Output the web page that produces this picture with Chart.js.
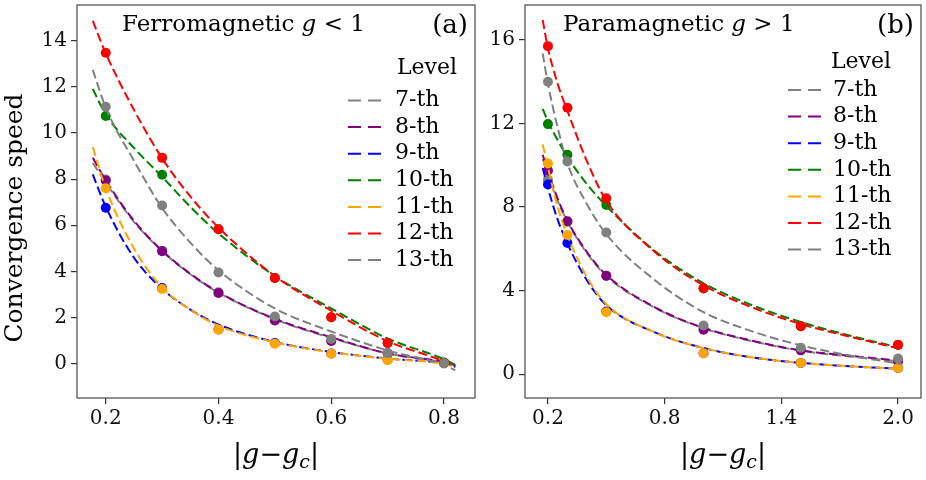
<!DOCTYPE html>
<html>
<head>
<meta charset="utf-8">
<script src="https://cdn.jsdelivr.net/npm/chart.js@4.4.0/dist/chart.umd.min.js"></script>
<style>
    body { margin: 0; background: #fff; }
    #wrap { position: relative; width: 926px; height: 480px; }
    #chart-a { position: absolute; left: 0; top: 0; }
    #chart-b { position: absolute; left: 480px; top: 0; }
</style>
</head>
<body>
<div id="wrap">
    <canvas id="chart-a" width="480" height="480"></canvas>
    <canvas id="chart-b" width="446" height="480"></canvas>
</div>
<script>
const levels = ['7-th', '8-th', '9-th', '10-th', '11-th', '12-th', '13-th'];
const levelColors = ['#808080', '#800080', '#0000ff', '#008000', '#ffa500', '#ff0000', '#808080'];

// (a) ferromagnetic, g < 1
const ferroX = [0.2, 0.3, 0.4, 0.5, 0.6, 0.7, 0.8];
const ferroPts7 = [7.98, 4.9, 3.1, 1.9, 1.0, 0.47, 0.05];
const ferroPts8 = [7.94, 4.88, 3.07, 1.88, 0.99, 0.45, 0.05];
const ferroPts9 = [6.76, 3.28, 1.5, 0.9, 0.45, 0.18, 0.03];
const ferroPts10 = [10.73, 8.19, 5.83, 3.72, 2.02, 0.9, 0.05];
const ferroPts11 = [7.6, 3.24, 1.48, 0.87, 0.44, 0.16, 0.02];
const ferroPts12 = [13.47, 8.92, 5.83, 3.72, 2.02, 0.9, 0.05];
const ferroPts13 = [11.13, 6.86, 3.96, 2.05, 1.08, 0.46, 0.02];

const ferroFitX = [0.177, 0.2, 0.25, 0.3, 0.35, 0.4, 0.5, 0.6, 0.7, 0.8, 0.82];
const ferroFit7 = [8.7, 7.85, 6.15, 4.88, 3.88, 3.08, 1.93, 1.12, 0.45, 0.05, -0.08];
const ferroFit8 = [8.92, 7.95, 6.2, 4.9, 3.9, 3.1, 1.95, 1.15, 0.45, 0.08, -0.05];
const ferroFit9 = [8.2, 6.8, 4.6, 3.25, 2.35, 1.7, 0.95, 0.51, 0.23, 0.02, -0.1];
const ferroFit10 = [11.9, 10.8, 9.35, 8.1, 6.8, 5.65, 3.8, 2.4, 1.1, 0.2, -0.05];
const ferroFit11 = [9.38, 7.6, 5.0, 3.3, 2.35, 1.65, 0.93, 0.5, 0.22, 0.0, -0.13];
const ferroFit12 = [14.85, 13.45, 11.0, 8.9, 7.25, 5.9, 3.8, 2.3, 0.98, 0.1, -0.15];
const ferroFit13 = [12.73, 11.1, 8.8, 6.75, 5.25, 4.05, 2.4, 1.4, 0.58, -0.05, -0.28];

const ferroTicksX = [0.2, 0.4, 0.6, 0.8];
const ferroTicksY = [0, 2, 4, 6, 8, 10, 12, 14];

// (b) paramagnetic, g > 1
const paraX = [0.2, 0.3, 0.5, 1.0, 1.5, 2.0];
const paraPts7 = [9.3, 7.3, 4.7, 2.2, 1.2, 0.6];
const paraPts8 = [9.75, 7.32, 4.71, 2.13, 1.14, 0.62];
const paraPts9 = [9.08, 6.28, 3.0, 1.0, 0.54, 0.3];
const paraPts10 = [11.97, 10.5, 8.1, 4.1, 2.3, 1.4];
const paraPts11 = [10.08, 6.66, 2.97, 1.0, 0.54, 0.3];
const paraPts12 = [15.7, 12.75, 8.42, 4.11, 2.3, 1.41];
const paraPts13 = [14.0, 10.18, 6.78, 2.33, 1.27, 0.75];

const paraFitX = [0.173, 0.2, 0.25, 0.3, 0.4, 0.5, 0.75, 1.0, 1.25, 1.5, 1.75, 2.02];
const paraFit7 = [10.3, 9.55, 8.3, 7.3, 5.8, 4.7, 3.18, 2.2, 1.58, 1.12, 0.85, 0.6];
const paraFit8 = [10.5, 9.7, 8.4, 7.35, 5.85, 4.75, 3.2, 2.22, 1.6, 1.14, 0.88, 0.64];
const paraFit9 = [9.87, 8.9, 7.4, 6.25, 4.5, 3.3, 2.0, 1.25, 0.8, 0.54, 0.38, 0.25];
const paraFit10 = [12.7, 12.1, 11.2, 10.4, 9.1, 8.05, 5.9, 4.35, 3.3, 2.5, 1.85, 1.25];
const paraFit11 = [11.0, 9.9, 8.0, 6.65, 4.65, 3.35, 2.0, 1.25, 0.8, 0.54, 0.38, 0.25];
const paraFit12 = [16.95, 15.6, 13.9, 12.6, 10.2, 8.3, 5.85, 4.25, 3.2, 2.4, 1.8, 1.2];
const paraFit13 = [15.35, 13.9, 11.8, 10.1, 8.15, 6.7, 4.5, 2.97, 2.05, 1.38, 0.9, 0.48];

const paraTicksX = [0.2, 0.8, 1.4, 2.0];
const paraTicksY = [0, 4, 8, 12, 16];

const FONT = '"DejaVu Serif", serif';

// last level pushed first so that it ends up drawn on top
function buildDatasets(xs, pts, fitX, fits) {
    const sets = [];
    for (let i = levels.length - 1; i >= 0; i--) {
        sets.push({
            label: levels[i] + ' fit',
            data: fitX.map((x, j) => ({ x: x, y: fits[i][j] })),
            showLine: true,
            borderColor: levelColors[i],
            borderWidth: 2,
            borderDash: [9, 4],
            pointRadius: 0,
            fill: false,
            tension: 0.4,
            cubicInterpolationMode: 'monotone'
        });
        sets.push({
            label: levels[i],
            data: xs.map((x, j) => ({ x: x, y: pts[i][j] })),
            showLine: false,
            pointRadius: 5,
            pointHoverRadius: 5,
            backgroundColor: levelColors[i],
            borderColor: levelColors[i],
            borderWidth: 0
        });
    }
    return sets;
}

function runWidth(ctx, runs, size) {
    let w = 0;
    runs.forEach(r => {
        const s = r.sub ? size * 0.7 : size;
        ctx.font = (r.i ? 'italic ' : '') + s + 'px ' + FONT;
        w += ctx.measureText(r.t).width;
    });
    return w;
}

function drawRuns(ctx, runs, x, y, size) {
    ctx.textAlign = 'left';
    ctx.textBaseline = 'alphabetic';
    runs.forEach(r => {
        const s = r.sub ? size * 0.7 : size;
        ctx.font = (r.i ? 'italic ' : '') + s + 'px ' + FONT;
        ctx.fillText(r.t, x, y + (r.sub ? size * 0.2 : 0));
        x += ctx.measureText(r.t).width;
    });
}

const xLabelRuns = [{ t: '|' }, { t: 'g', i: true }, { t: '\u2212' }, { t: 'g', i: true }, { t: 'c', i: true, sub: true }, { t: '|' }];

const panelDecor = {
    id: 'panelDecor',
    afterDraw(chart, args, o) {
        const ctx = chart.ctx;
        const a = chart.chartArea;
        ctx.save();
        ctx.fillStyle = '#000';

        // frame round the plot
        ctx.strokeStyle = '#555';
        ctx.lineWidth = 1.3;
        ctx.strokeRect(a.left, a.top, a.right - a.left, a.bottom - a.top);

        // panel title and tag
        drawRuns(ctx, o.title, o.titleX, 31, 23);
        ctx.font = '26px ' + FONT;
        ctx.textAlign = 'right';
        ctx.fillText(o.tag, a.right - 7, 33);

        // legend
        const lg = o.legend;
        ctx.font = '22px ' + FONT;
        ctx.textAlign = 'center';
        ctx.textBaseline = 'middle';
        ctx.fillText('Level', lg.levelX, lg.levelY);
        ctx.textAlign = 'left';
        levels.forEach((name, i) => {
            const y = lg.rowY + i * lg.rowGap;
            ctx.strokeStyle = levelColors[i];
            ctx.lineWidth = 2;
            ctx.setLineDash([13, 7]);
            ctx.beginPath();
            ctx.moveTo(lg.lineX, y);
            ctx.lineTo(lg.lineX + 34, y);
            ctx.stroke();
            ctx.setLineDash([]);
            ctx.fillText(name, lg.textX, y);
        });

        // x axis label
        const w = runWidth(ctx, xLabelRuns, 27);
        drawRuns(ctx, xLabelRuns, (a.left + a.right) / 2 - w / 2, 463, 27);

        // y axis label
        if (o.yLabel) {
            ctx.translate(15, 218);
            ctx.rotate(-Math.PI / 2);
            ctx.font = '25px ' + FONT;
            ctx.textAlign = 'center';
            ctx.textBaseline = 'middle';
            ctx.fillText(o.yLabel, 0, 0);
        }
        ctx.restore();
    }
};

function makeChart(id, cfg) {
    const tickFont = { family: FONT, size: 20 };
    return new Chart(document.getElementById(id), {
        type: 'scatter',
        data: { datasets: cfg.datasets },
        plugins: [panelDecor],
        options: {
            responsive: false,
            animation: false,
            events: [],
            layout: { padding: { top: 3, right: cfg.padRight, left: 0, bottom: 0 } },
            plugins: {
                legend: { display: false },
                tooltip: { enabled: false },
                panelDecor: cfg.decor
            },
            scales: {
                x: {
                    type: 'linear',
                    min: cfg.xMin,
                    max: cfg.xMax,
                    border: { display: false },
                    grid: { display: true, drawOnChartArea: false, drawTicks: true, tickLength: 6, color: '#333', lineWidth: 1.2 },
                    ticks: { font: tickFont, color: '#111', padding: 3, maxRotation: 0, autoSkip: false, callback: v => v.toFixed(1) },
                    afterBuildTicks: s => { s.ticks = cfg.ticksX.map(v => ({ value: v })); },
                    afterFit: s => { s.height = 82; s.paddingLeft = 0; s.paddingRight = 0; }
                },
                y: {
                    type: 'linear',
                    min: cfg.yMin,
                    max: cfg.yMax,
                    border: { display: false },
                    grid: { display: true, drawOnChartArea: false, drawTicks: true, tickLength: 6, color: '#333', lineWidth: 1.2 },
                    ticks: { font: tickFont, color: '#111', padding: 4, autoSkip: false, callback: v => String(v) },
                    afterBuildTicks: s => { s.ticks = cfg.ticksY.map(v => ({ value: v })); },
                    afterFit: s => { s.width = cfg.yWidth; s.paddingTop = 0; s.paddingBottom = 0; }
                }
            }
        }
    });
}

makeChart('chart-a', {
    datasets: buildDatasets(ferroX,
        [ferroPts7, ferroPts8, ferroPts9, ferroPts10, ferroPts11, ferroPts12, ferroPts13],
        ferroFitX,
        [ferroFit7, ferroFit8, ferroFit9, ferroFit10, ferroFit11, ferroFit12, ferroFit13]),
    xMin: 0.149, xMax: 0.855, yMin: -1.48, yMax: 15.54,
    ticksX: ferroTicksX, ticksY: ferroTicksY,
    yWidth: 77, padRight: 4,
    decor: {
        title: [{ t: 'Ferromagnetic ' }, { t: 'g', i: true }, { t: ' < 1' }],
        titleX: 122, tag: '(a)', yLabel: 'Convergence speed',
        legend: { lineX: 348, textX: 395, levelX: 427, levelY: 68, rowY: 100.5, rowGap: 26.6 }
    }
});

makeChart('chart-b', {
    datasets: buildDatasets(paraX,
        [paraPts7, paraPts8, paraPts9, paraPts10, paraPts11, paraPts12, paraPts13],
        paraFitX,
        [paraFit7, paraFit8, paraFit9, paraFit10, paraFit11, paraFit12, paraFit13]),
    xMin: 0.082, xMax: 2.118, yMin: -1.14, yMax: 17.67,
    ticksX: paraTicksX, ticksY: paraTicksY,
    yWidth: 45, padRight: 3,
    decor: {
        title: [{ t: 'Paramagnetic ' }, { t: 'g', i: true }, { t: ' > 1' }],
        titleX: 83, tag: '(b)', yLabel: null,
        legend: { lineX: 308, textX: 353, levelX: 381, levelY: 62, rowY: 90, rowGap: 26.6 }
    }
});
</script>
</body>
</html>
